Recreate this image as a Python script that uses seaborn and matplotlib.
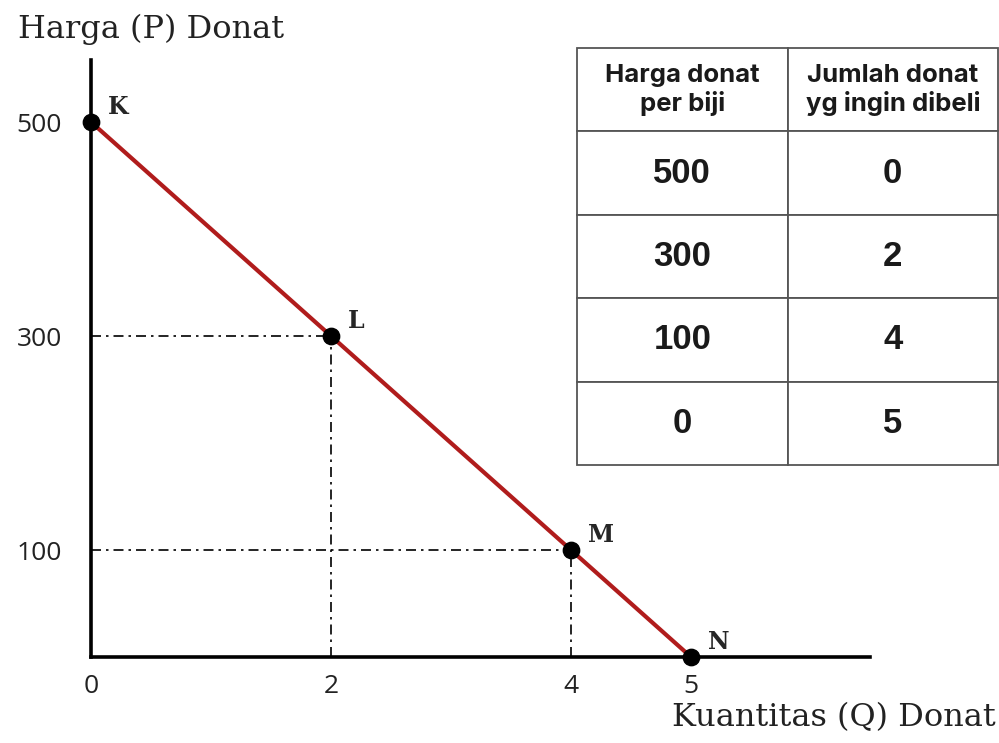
import matplotlib
matplotlib.use('Agg')
import matplotlib.pyplot as plt
import seaborn as sns
import pandas as pd

# data from the demand schedule
points = ['K', 'L', 'M', 'N']
harga = [500, 300, 100, 0]
jumlah = [0, 2, 4, 5]
x_ticks = [0, 2, 4, 5]
y_ticks = [100, 300, 500]
header = ['Harga donat\nper biji', 'Jumlah donat\nyg ingin dibeli']

df = pd.DataFrame({'titik': points, 'P': harga, 'Q': jumlah})

sns.set_style('white')
W, H = 999, 743
fig = plt.figure(figsize=(W / 100, H / 100), dpi=100)

# main axes: origin at pixel (91, 657)
ax = fig.add_axes([91 / W, (H - 657) / H, 779 / W, 597 / H])
ax.set_xlim(0, 779 / 120)
ax.set_ylim(0, 597 / 1.07)

for s in ['top', 'right']:
    ax.spines[s].set_visible(False)
for s in ['left', 'bottom']:
    ax.spines[s].set_color('black')
    ax.spines[s].set_linewidth(2.6)

# guide lines for the interior points
for q, p in zip(jumlah, harga):
    if 0 < q and 0 < p:
        ax.plot([0, q], [p, p], color='black', lw=1.2, ls=(0, (6, 3, 1.5, 3)), zorder=1)
        ax.plot([q, q], [0, p], color='black', lw=1.2, ls=(0, (6, 3, 1.5, 3)), zorder=1)

sns.lineplot(data=df, x='Q', y='P', color='#b01c1c', lw=3, ax=ax, zorder=2,
             sort=False)
sns.scatterplot(data=df, x='Q', y='P', color='black', s=140, edgecolor='black',
                ax=ax, zorder=3, clip_on=False)

for name, q, p in zip(points, jumlah, harga):
    ax.annotate(name, (q, p), xytext=(12, 11), textcoords='offset points',
                fontsize=17, fontweight='bold', family='DejaVu Serif',
                ha='left', va='center', annotation_clip=False)

ax.set_xticks(x_ticks)
ax.set_yticks(y_ticks)
ax.set_xticklabels([str(v) for v in x_ticks], family='Open Sans', fontsize=19, color='#222222')
ax.set_yticklabels([str(v) for v in y_ticks], family='Open Sans', fontsize=19, color='#222222')
ax.tick_params(axis='both', length=0)
ax.tick_params(axis='x', pad=12)
ax.tick_params(axis='y', pad=21)
ax.set_xlabel('')
ax.set_ylabel('')

fig.text(18 / W, 1 - 29 / H, 'Harga (P) Donat', family='DejaVu Serif',
         fontsize=23, ha='left', va='center', color='#222222')
fig.text(996 / W, 1 - 718 / H, 'Kuantitas (Q) Donat', family='DejaVu Serif',
         fontsize=23, ha='right', va='center', color='#222222')

# schedule table
tax = fig.add_axes([577 / W, (H - 465) / H, 421 / W, 417 / H])
tax.axis('off')
cells = [[str(p), str(q)] for p, q in zip(harga, jumlah)]
tbl = tax.table(cellText=[header] + cells, bbox=[0, 0, 1, 1], cellLoc='center')
tbl.auto_set_font_size(False)
for (r, c), cell in tbl.get_celld().items():
    cell.set_edgecolor('#555555')
    cell.set_linewidth(1.3)
    cell.get_text().set_fontweight('bold')
    cell.get_text().set_color('#1a1a1a')
    if r == 0:
        cell.get_text().set_family('Inter')
        cell.get_text().set_fontsize(18.5)
        cell.get_text().set_linespacing(1.2)
    else:
        cell.get_text().set_family('Liberation Sans')
        cell.get_text().set_fontsize(25)

fig.savefig('out.png', dpi=100)
